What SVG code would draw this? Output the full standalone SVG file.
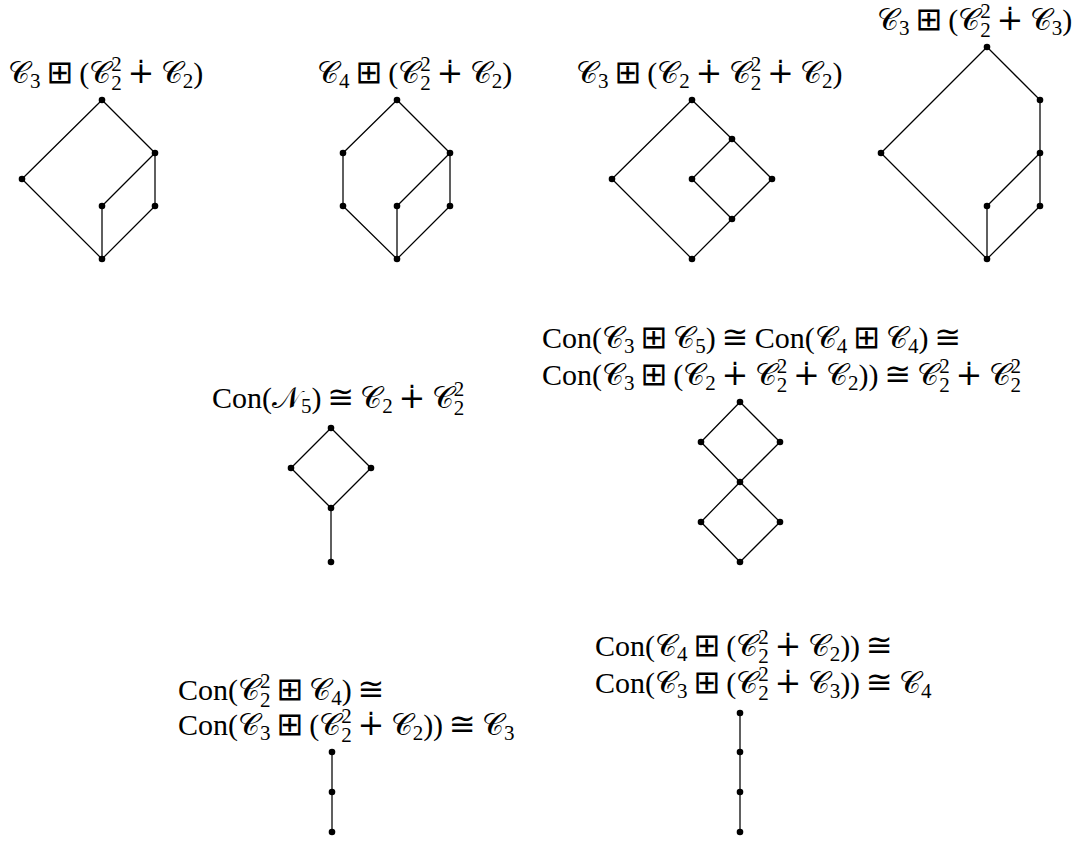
<svg xmlns="http://www.w3.org/2000/svg" width="1079" height="841" viewBox="0 0 1079 841">
<style>
text{font-family:"Liberation Serif","DejaVu Serif","DejaVu Sans",serif;font-size:30px;fill:#000;word-spacing:-1.5px}
.c{font-family:"DejaVu Sans","DejaVu Serif","Noto Sans",serif}
.o{font-family:"DejaVu Sans","DejaVu Serif",sans-serif;font-size:32px}
.sb{font-size:21px;baseline-shift:-5px}
.sb2{font-size:21px;baseline-shift:-7px}
.sp{font-size:21px;baseline-shift:12px}
.e{stroke:#000;stroke-width:1.25;fill:none}
circle{fill:#000}
</style>
<rect width="1079" height="841" fill="#fff"/>
<g id="connectors" class="e">
<path d="M102 100L155 153M102 100L22 179M22 179L102 259M155 153L102 206M155 153L155 206M102 206L102 259M155 206L102 259"/>
<path d="M397 100L343 153M397 100L450 153M343 153L343 206M343 206L397 259M450 153L397 206M450 153L450 206M397 206L397 259M450 206L397 259"/>
<path d="M692 100L732 139M692 100L612 179M612 179L692 259M732 139L692 179M732 139L772 179M692 179L732 219M772 179L732 219M732 219L692 259"/>
<path d="M987 47L1040 100M987 47L881 153M1040 100L1040 153M881 153L987 259M1040 153L987 206M1040 153L1040 206M987 206L987 259M1040 206L987 259"/>
<path d="M331 428L291 468M331 428L371 468M291 468L331 508M371 468L331 508M331 508L331 562"/>
<path d="M740 402L701 442M740 402L780 442M701 442L740 482M780 442L740 482M740 482L701 522M740 482L780 522M701 522L740 562M780 522L740 562"/>
<path d="M332 752L332 832"/>
<path d="M740 713L740 832"/>
</g>
<g id="labels">
<text x="8" y="83"><tspan class="c">𝒞</tspan><tspan class="sb">3</tspan> <tspan class="o">⊞</tspan> (<tspan class="c">𝒞</tspan><tspan class="sb2">2</tspan><tspan class="sp" dx="-10.5">2</tspan> <tspan class="o">∔</tspan> <tspan class="c">𝒞</tspan><tspan class="sb">2</tspan>)</text>
<text x="317" y="83"><tspan class="c">𝒞</tspan><tspan class="sb">4</tspan> <tspan class="o">⊞</tspan> (<tspan class="c">𝒞</tspan><tspan class="sb2">2</tspan><tspan class="sp" dx="-10.5">2</tspan> <tspan class="o">∔</tspan> <tspan class="c">𝒞</tspan><tspan class="sb">2</tspan>)</text>
<text x="576" y="83"><tspan class="c">𝒞</tspan><tspan class="sb">3</tspan> <tspan class="o">⊞</tspan> (<tspan class="c">𝒞</tspan><tspan class="sb">2</tspan> <tspan class="o">∔</tspan> <tspan class="c">𝒞</tspan><tspan class="sb2">2</tspan><tspan class="sp" dx="-10.5">2</tspan> <tspan class="o">∔</tspan> <tspan class="c">𝒞</tspan><tspan class="sb">2</tspan>)</text>
<text x="877" y="30"><tspan class="c">𝒞</tspan><tspan class="sb">3</tspan> <tspan class="o">⊞</tspan> (<tspan class="c">𝒞</tspan><tspan class="sb2">2</tspan><tspan class="sp" dx="-10.5">2</tspan> <tspan class="o">∔</tspan> <tspan class="c">𝒞</tspan><tspan class="sb">3</tspan>)</text>
<text x="212" y="408">Con(<tspan class="c">𝒩</tspan><tspan class="sb">5</tspan>) <tspan class="o">≅</tspan> <tspan class="c">𝒞</tspan><tspan class="sb">2</tspan> <tspan class="o">∔</tspan> <tspan class="c">𝒞</tspan><tspan class="sb2">2</tspan><tspan class="sp" dx="-10.5">2</tspan></text>
<text x="542" y="348">Con(<tspan class="c">𝒞</tspan><tspan class="sb">3</tspan> <tspan class="o">⊞</tspan> <tspan class="c">𝒞</tspan><tspan class="sb">5</tspan>) <tspan class="o">≅</tspan> Con(<tspan class="c">𝒞</tspan><tspan class="sb">4</tspan> <tspan class="o">⊞</tspan> <tspan class="c">𝒞</tspan><tspan class="sb">4</tspan>) <tspan class="o">≅</tspan></text>
<text x="542" y="385">Con(<tspan class="c">𝒞</tspan><tspan class="sb">3</tspan> <tspan class="o">⊞</tspan> (<tspan class="c">𝒞</tspan><tspan class="sb">2</tspan> <tspan class="o">∔</tspan> <tspan class="c">𝒞</tspan><tspan class="sb2">2</tspan><tspan class="sp" dx="-10.5">2</tspan> <tspan class="o">∔</tspan> <tspan class="c">𝒞</tspan><tspan class="sb">2</tspan>)) <tspan class="o">≅</tspan> <tspan class="c">𝒞</tspan><tspan class="sb2">2</tspan><tspan class="sp" dx="-10.5">2</tspan> <tspan class="o">∔</tspan> <tspan class="c">𝒞</tspan><tspan class="sb2">2</tspan><tspan class="sp" dx="-10.5">2</tspan></text>
<text x="178" y="700">Con(<tspan class="c">𝒞</tspan><tspan class="sb2">2</tspan><tspan class="sp" dx="-10.5">2</tspan> <tspan class="o">⊞</tspan> <tspan class="c">𝒞</tspan><tspan class="sb">4</tspan>) <tspan class="o">≅</tspan></text>
<text x="178" y="735">Con(<tspan class="c">𝒞</tspan><tspan class="sb">3</tspan> <tspan class="o">⊞</tspan> (<tspan class="c">𝒞</tspan><tspan class="sb2">2</tspan><tspan class="sp" dx="-10.5">2</tspan> <tspan class="o">∔</tspan> <tspan class="c">𝒞</tspan><tspan class="sb">2</tspan>)) <tspan class="o">≅</tspan> <tspan class="c">𝒞</tspan><tspan class="sb">3</tspan></text>
<text x="595" y="656">Con(<tspan class="c">𝒞</tspan><tspan class="sb">4</tspan> <tspan class="o">⊞</tspan> (<tspan class="c">𝒞</tspan><tspan class="sb2">2</tspan><tspan class="sp" dx="-10.5">2</tspan> <tspan class="o">∔</tspan> <tspan class="c">𝒞</tspan><tspan class="sb">2</tspan>)) <tspan class="o">≅</tspan></text>
<text x="595" y="693">Con(<tspan class="c">𝒞</tspan><tspan class="sb">3</tspan> <tspan class="o">⊞</tspan> (<tspan class="c">𝒞</tspan><tspan class="sb2">2</tspan><tspan class="sp" dx="-10.5">2</tspan> <tspan class="o">∔</tspan> <tspan class="c">𝒞</tspan><tspan class="sb">3</tspan>)) <tspan class="o">≅</tspan> <tspan class="c">𝒞</tspan><tspan class="sb">4</tspan></text>
</g>
<g id="d1-top"><circle cx="102" cy="100" r="3.3"/></g>
<g id="d1-a"><circle cx="155" cy="153" r="3.3"/></g>
<g id="d1-l"><circle cx="22" cy="179" r="3.3"/></g>
<g id="d1-m"><circle cx="102" cy="206" r="3.3"/></g>
<g id="d1-r"><circle cx="155" cy="206" r="3.3"/></g>
<g id="d1-bot"><circle cx="102" cy="259" r="3.3"/></g>
<g id="d2-top"><circle cx="397" cy="100" r="3.3"/></g>
<g id="d2-ul"><circle cx="343" cy="153" r="3.3"/></g>
<g id="d2-ur"><circle cx="450" cy="153" r="3.3"/></g>
<g id="d2-ll"><circle cx="343" cy="206" r="3.3"/></g>
<g id="d2-m"><circle cx="397" cy="206" r="3.3"/></g>
<g id="d2-lr"><circle cx="450" cy="206" r="3.3"/></g>
<g id="d2-bot"><circle cx="397" cy="259" r="3.3"/></g>
<g id="d3-top"><circle cx="692" cy="100" r="3.3"/></g>
<g id="d3-a"><circle cx="732" cy="139" r="3.3"/></g>
<g id="d3-l"><circle cx="612" cy="179" r="3.3"/></g>
<g id="d3-m"><circle cx="692" cy="179" r="3.3"/></g>
<g id="d3-r"><circle cx="772" cy="179" r="3.3"/></g>
<g id="d3-c"><circle cx="732" cy="219" r="3.3"/></g>
<g id="d3-bot"><circle cx="692" cy="259" r="3.3"/></g>
<g id="d4-top"><circle cx="987" cy="47" r="3.3"/></g>
<g id="d4-a"><circle cx="1040" cy="100" r="3.3"/></g>
<g id="d4-l"><circle cx="881" cy="153" r="3.3"/></g>
<g id="d4-p"><circle cx="1040" cy="153" r="3.3"/></g>
<g id="d4-m"><circle cx="987" cy="206" r="3.3"/></g>
<g id="d4-r"><circle cx="1040" cy="206" r="3.3"/></g>
<g id="d4-bot"><circle cx="987" cy="259" r="3.3"/></g>
<g id="d5-top"><circle cx="331" cy="428" r="3.3"/></g>
<g id="d5-l"><circle cx="291" cy="468" r="3.3"/></g>
<g id="d5-r"><circle cx="371" cy="468" r="3.3"/></g>
<g id="d5-m"><circle cx="331" cy="508" r="3.3"/></g>
<g id="d5-bot"><circle cx="331" cy="562" r="3.3"/></g>
<g id="d6-top"><circle cx="740" cy="402" r="3.3"/></g>
<g id="d6-l"><circle cx="701" cy="442" r="3.3"/></g>
<g id="d6-r"><circle cx="780" cy="442" r="3.3"/></g>
<g id="d6-m"><circle cx="740" cy="482" r="3.3"/></g>
<g id="d6-l2"><circle cx="701" cy="522" r="3.3"/></g>
<g id="d6-r2"><circle cx="780" cy="522" r="3.3"/></g>
<g id="d6-bot"><circle cx="740" cy="562" r="3.3"/></g>
<g id="d7-1"><circle cx="332" cy="752" r="3.3"/></g>
<g id="d7-2"><circle cx="332" cy="792" r="3.3"/></g>
<g id="d7-3"><circle cx="332" cy="832" r="3.3"/></g>
<g id="d8-1"><circle cx="740" cy="713" r="3.3"/></g>
<g id="d8-2"><circle cx="740" cy="752" r="3.3"/></g>
<g id="d8-3"><circle cx="740" cy="792" r="3.3"/></g>
<g id="d8-4"><circle cx="740" cy="832" r="3.3"/></g>
</svg>
